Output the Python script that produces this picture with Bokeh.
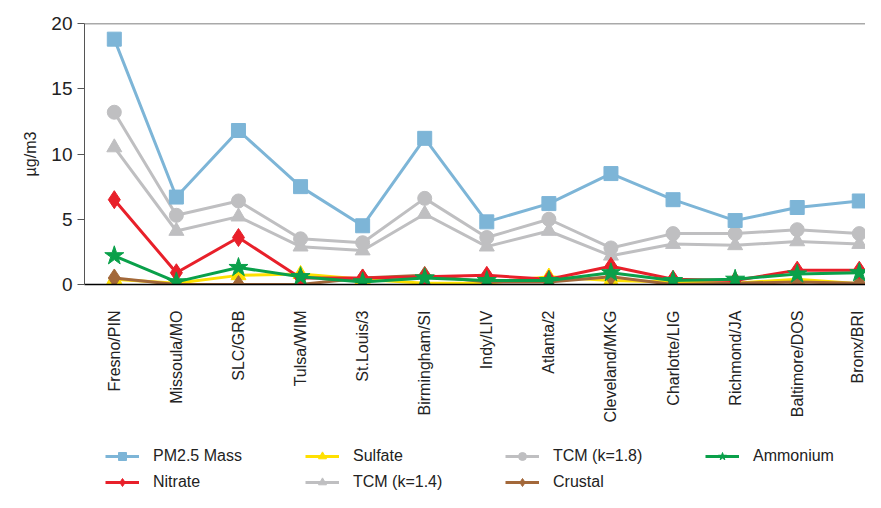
from bokeh.plotting import figure
from bokeh.models import Range1d, FixedTicker, Span, Legend, LegendItem, LinearAxis
from bokeh.layouts import column
from bokeh.embed import file_html
from bokeh.resources import INLINE
import math

sites = ["Fresno/PIN", "Missoula/MO", "SLC/GRB", "Tulsa/WIM", "St.Louis/3", "Birmingham/SI",
         "Indy/LIV", "Atlanta/2", "Cleveland/MKG", "Charlotte/LIG", "Richmond/JA", "Baltimore/DOS", "Bronx/BRI"]
pm25 = [18.8, 6.7, 11.8, 7.5, 4.5, 11.2, 4.8, 6.2, 8.5, 6.5, 4.9, 5.9, 6.4]
tcm18 = [13.2, 5.3, 6.4, 3.5, 3.2, 6.6, 3.6, 5.0, 2.8, 3.9, 3.9, 4.2, 3.9]
tcm14 = [10.5, 4.1, 5.2, 2.9, 2.6, 5.4, 2.9, 4.1, 2.2, 3.1, 3.0, 3.3, 3.1]
nitrate = [6.5, 0.9, 3.6, 0.5, 0.5, 0.6, 0.7, 0.4, 1.4, 0.4, 0.3, 1.1, 1.1]
ammonium = [2.2, 0.2, 1.3, 0.6, 0.2, 0.5, 0.3, 0.3, 0.9, 0.3, 0.4, 0.8, 0.9]
sulfate = [0.4, 0.1, 0.7, 0.8, 0.4, 0.1, 0.1, 0.6, 0.3, 0.2, 0.1, 0.4, 0.05]
crustal = [0.5, 0.0, 0.0, 0.0, 0.5, 0.7, 0.2, 0.2, 0.6, 0.0, 0.1, 0.2, 0.1]
y_ticks = [0, 5, 10, 15, 20]

xs = list(range(len(sites)))
FONT = "Liberation Sans"

p = figure(width=865, height=440, output_backend="svg", toolbar_location=None,
           x_range=Range1d(-0.48, 12.1), y_range=Range1d(0, 20),
           min_border_left=84, min_border_right=0, min_border_top=23, min_border_bottom=156,
           x_axis_location=None)
p.outline_line_color = None
p.grid.visible = False
p.background_fill_color = "white"

xaxis = LinearAxis(ticker=FixedTicker(ticks=xs),
                   major_label_overrides={i: s for i, s in enumerate(sites)})
xaxis.major_label_orientation = math.pi / 2
xaxis.major_tick_line_color = None
xaxis.minor_tick_line_color = None
xaxis.axis_line_color = "black"
xaxis.axis_line_width = 1.5
xaxis.major_label_standoff = 20
xaxis.major_label_text_font = FONT
xaxis.major_label_text_font_size = "16px"
xaxis.major_label_text_color = "#222222"
p.add_layout(xaxis, "below")

ya = p.yaxis[0]
ya.ticker = FixedTicker(ticks=y_ticks)
ya.major_tick_out = 7
ya.major_tick_in = 0
ya.minor_tick_line_color = None
ya.axis_line_color = "#555555"
ya.major_tick_line_color = "#555555"
ya.major_label_text_font = FONT
ya.major_label_text_font_size = "19px"
ya.major_label_text_color = "#222222"
ya.axis_label = "µg/m3"
ya.axis_label_text_font = FONT
ya.axis_label_text_font_size = "16px"
ya.axis_label_text_font_style = "normal"
ya.axis_label_text_color = "#222222"
ya.axis_label_standoff = 9

p.add_layout(Span(location=20, dimension="width", line_color="#555555", line_width=1.5))

series = [
    ("TCM (k=1.4)", tcm14, "#bfbfc1", "triangle", 15),
    ("TCM (k=1.8)", tcm18, "#bfbfc1", "circle", 14),
    ("PM2.5 Mass", pm25, "#7db5d7", "square", 14),
    ("Sulfate", sulfate, "#ffe000", "triangle", 15),
    ("Crustal", crustal, "#a3683a", "diamond", 18),
    ("Nitrate", nitrate, "#e8202a", "diamond", 18),
    ("Ammonium", ammonium, "#0aa04a", "star", 20),
]

# legend strip below the chart (its data lie outside its own view; only the legend shows)
pl = figure(width=865, height=52, output_backend="svg", toolbar_location=None,
            x_range=Range1d(-100, -99), y_range=Range1d(-100, -99),
            min_border_left=0, min_border_right=0, min_border_top=0, min_border_bottom=0,
            x_axis_location=None, y_axis_location=None)
pl.outline_line_color = None
pl.grid.visible = False

rends = {}
for name, vals, col, mk, sz in series:
    p.line(xs, vals, line_color=col, line_width=3)
    p.scatter(xs, vals, marker=mk, size=sz, fill_color=col, line_color=col)
    l2 = pl.line(xs, vals, line_color=col, line_width=3)
    s2 = pl.scatter(xs, vals, marker=mk, size=sz * 0.85, fill_color=col, line_color=col)
    rends[name] = [l2, s2]

order = ["PM2.5 Mass", "Sulfate", "TCM (k=1.8)", "Ammonium", "Nitrate", "TCM (k=1.4)", "Crustal"]
legend = Legend(items=[LegendItem(label=n, renderers=rends[n]) for n in order],
                orientation="horizontal", ncols=4, location=(21, 0))
legend.border_line_color = None
legend.background_fill_alpha = 0
legend.label_text_font = FONT
legend.label_text_font_size = "16px"
legend.label_text_color = "#222222"
legend.glyph_width = 34
legend.glyph_height = 20
legend.label_standoff = 14
legend.label_width = 146
legend.spacing = 6
legend.padding = 0
legend.margin = 0
pl.add_layout(legend, "center")

open("out.html", "w").write(file_html(column(p, pl), INLINE))
